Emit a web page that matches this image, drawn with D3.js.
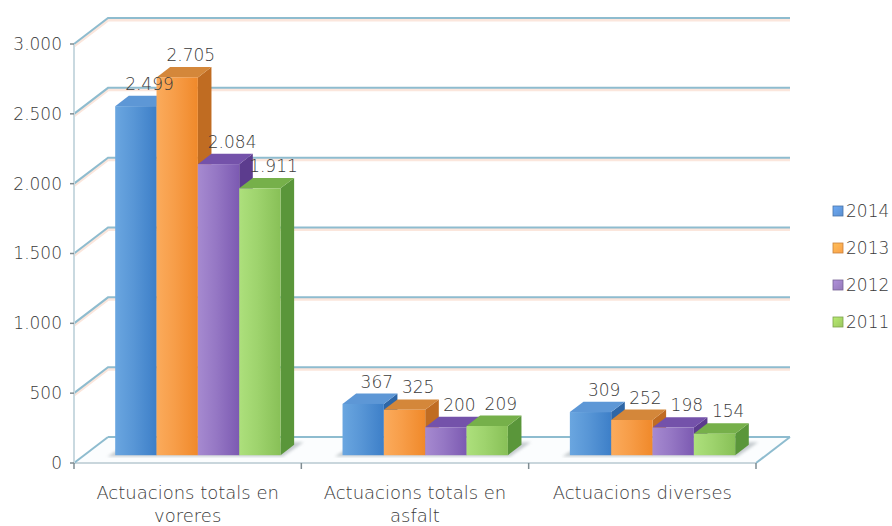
<!DOCTYPE html>
<html>
<head>
<meta charset="utf-8">
<script src="https://cdn.jsdelivr.net/npm/d3@7/dist/d3.min.js"></script>
<style>
  html, body { margin: 0; padding: 0; background: #fff; }
  svg { display: block; }
  text { font-family: "DejaVu Sans", sans-serif; font-weight: 200; fill: #3a3a3a; }
</style>
</head>
<body>
<svg id="chart" width="892" height="526"></svg>
<script>
// Categories (each entry is the label split into its lines)
const categories = [
  ["Actuacions totals en", "voreres"],
  ["Actuacions totals en", "asfalt"],
  ["Actuacions diverses"]
];
const series = ["2014", "2013", "2012", "2011"];
const values2014 = [2499, 367, 309];
const values2013 = [2705, 325, 252];
const values2012 = [2084, 200, 198];
const values2011 = [1911, 209, 154];
const yTicks = [0, 500, 1000, 1500, 2000, 2500, 3000];

const seriesValues = [values2014, values2013, values2012, values2011];

// Colour sets per series: front gradient, side, top, legend
const palette = [
  { f0: "#6aa6e0", f1: "#3d7fc8", side: "#2e66a6", top: "#5d97d6", key: "#5b8fcf" },
  { f0: "#fbab5c", f1: "#f0892a", side: "#c06c22", top: "#d4873a", key: "#f9a04a" },
  { f0: "#a68ad0", f1: "#7c5ab2", side: "#5c3c8e", top: "#7452aa", key: "#9479b8" },
  { f0: "#ade07c", f1: "#88c057", side: "#5a963a", top: "#76b04a", key: "#9bc65f" }
];

const fmt = d3.formatLocale({ decimal: ",", thousands: ".", grouping: [3], currency: ["", "€"] }).format(",d");

const svg = d3.select("#chart");

// Front plane of the 3D box and its depth vector
const x0 = 74, x1 = 756;
const depth = { dx: 34, dy: -26 };
const y = d3.scaleLinear().domain([0, 3000]).range([463, 44]);
const x = d3.scaleBand().domain(d3.range(categories.length)).range([x0, x1]).padding(0);
const xs = d3.scaleBand().domain(series).range([0, x.bandwidth()]).paddingInner(0).paddingOuter(0.75);

// project a point (screen x on front plane, value, depth fraction)
const P = (px, v, d) => [px + d * depth.dx, y(v) + d * depth.dy];
const poly = pts => "M" + pts.map(p => p.join(",")).join("L") + "Z";

const defs = svg.append("defs");
palette.forEach((c, i) => {
  const g = defs.append("linearGradient").attr("id", "front" + i).attr("x1", 0).attr("x2", 1).attr("y1", 0).attr("y2", 0);
  g.append("stop").attr("offset", "0%").attr("stop-color", c.f0);
  g.append("stop").attr("offset", "45%").attr("stop-color", d3.interpolateRgb(c.f0, c.f1)(0.4));
  g.append("stop").attr("offset", "100%").attr("stop-color", c.f1);
  const k = defs.append("linearGradient").attr("id", "key" + i).attr("x1", 0).attr("x2", 1).attr("y1", 0).attr("y2", 1);
  k.append("stop").attr("offset", "0%").attr("stop-color", d3.color(c.key).brighter(0.5));
  k.append("stop").attr("offset", "100%").attr("stop-color", c.key);
});
defs.append("filter").attr("id", "soft").append("feGaussianBlur").attr("stdDeviation", 1.6);

const grid = "#8ebccf";

// Floor
const floor = svg.append("g");
floor.append("path")
  .attr("d", poly([P(x0, 0, 0), P(x1, 0, 0), P(x1, 0, 1), P(x0, 0, 1)]))
  .attr("fill", "#fbfdfe").attr("stroke", "none");
floor.append("line")
  .attr("x1", P(x0, 0, 1)[0]).attr("y1", P(x0, 0, 1)[1])
  .attr("x2", P(x1, 0, 1)[0]).attr("y2", P(x1, 0, 1)[1])
  .attr("stroke", grid).attr("stroke-width", 2);
floor.append("line")
  .attr("x1", P(x1, 0, 0)[0]).attr("y1", P(x1, 0, 0)[1])
  .attr("x2", P(x1, 0, 1)[0]).attr("y2", P(x1, 0, 1)[1])
  .attr("stroke", grid).attr("stroke-width", 2);
floor.append("line")
  .attr("x1", x0).attr("y1", y(0)).attr("x2", x1).attr("y2", y(0))
  .attr("stroke", "#c9d6dc").attr("stroke-width", 2);

// Back wall gridlines and left wall diagonals
const walls = svg.append("g");
yTicks.filter(t => t > 0).forEach(t => {
  const a = P(x0, t, 0), b = P(x0, t, 1), c = P(x1, t, 1);
  walls.append("path")
    .attr("d", `M${a}L${b}L${c}`)
    .attr("fill", "none").attr("stroke", "#fbe6dc").attr("stroke-width", 3)
    .attr("transform", "translate(0,2)");
  walls.append("path")
    .attr("d", `M${a}L${b}L${c}`)
    .attr("fill", "none").attr("stroke", grid).attr("stroke-width", 2);
});
walls.append("path")
  .attr("d", `M${P(x0, 0, 0)}L${P(x0, 0, 1)}`)
  .attr("fill", "none").attr("stroke", grid).attr("stroke-width", 2);

// Front vertical axis
const axisG = svg.append("g");
axisG.append("line").attr("x1", x0).attr("x2", x0).attr("y1", y(3000)).attr("y2", y(0))
  .attr("stroke", "#c9d9e0").attr("stroke-width", 2);
axisG.selectAll(".tick").data(yTicks).join("line")
  .attr("x1", x0 - 4).attr("x2", x0).attr("y1", d => y(d)).attr("y2", d => y(d))
  .attr("stroke", "#7f8c92").attr("stroke-width", 1.5);
axisG.selectAll(".ylab").data(yTicks).join("text")
  .attr("x", 62).attr("y", d => y(d)).attr("dy", "0.35em")
  .attr("text-anchor", "end").attr("font-size", 17)
  .text(d => fmt(d));

// Category tick marks on front floor edge
axisG.selectAll(".xtick").data(d3.range(categories.length + 1)).join("line")
  .attr("x1", i => x0 + i * x.step()).attr("x2", i => x0 + i * x.step())
  .attr("y1", y(0)).attr("y2", y(0) + 6)
  .attr("stroke", "#7f8c92").attr("stroke-width", 1.5);

// Category labels
categories.forEach((lines, i) => {
  const t = svg.append("text")
    .attr("x", x(i) + x.bandwidth() / 2).attr("y", 499)
    .attr("text-anchor", "middle").attr("font-size", 18);
  lines.forEach((ln, j) => t.append("tspan").attr("x", x(i) + x.bandwidth() / 2).attr("dy", j ? 23 : 0).text(ln));
});

// Bars
const dFront = 0.3, dBack = 0.7;
const bars = svg.append("g");
categories.forEach((_, ci) => {
  // soft shadow on the floor beneath the group
  const gx0 = x(ci) + xs(series[0]), gx1 = x(ci) + xs(series[series.length - 1]) + xs.bandwidth();
  bars.append("path")
    .attr("d", poly([P(gx0 - 6, 0, dFront - 0.05), P(gx1 + 4, 0, dFront - 0.05), P(gx1 + 6, 0, dBack + 0.1), P(gx0 - 2, 0, dBack + 0.1)]))
    .attr("fill", "#9aa3a8").attr("opacity", 0.55).attr("filter", "url(#soft)");
  series.forEach((s, si) => {
    const v = seriesValues[si][ci];
    const bx0 = x(ci) + xs(s), bx1 = bx0 + xs.bandwidth();
    const c = palette[si];
    // side face
    bars.append("path")
      .attr("d", poly([P(bx1, 0, dFront), P(bx1, 0, dBack), P(bx1, v, dBack), P(bx1, v, dFront)]))
      .attr("fill", c.side);
    // top face
    bars.append("path")
      .attr("d", poly([P(bx0, v, dFront), P(bx1, v, dFront), P(bx1, v, dBack), P(bx0, v, dBack)]))
      .attr("fill", c.top);
    // front face
    const a = P(bx0, v, dFront), b = P(bx1, 0, dFront);
    bars.append("rect")
      .attr("x", a[0]).attr("y", a[1]).attr("width", b[0] - a[0]).attr("height", b[1] - a[1])
      .attr("fill", `url(#front${si})`);
  });
});

// Value labels
const labels = svg.append("g");
categories.forEach((_, ci) => {
  series.forEach((s, si) => {
    const v = seriesValues[si][ci];
    const cx = x(ci) + xs(s) + xs.bandwidth() / 2;
    const p = P(cx, v, dBack);
    labels.append("text")
      .attr("x", p[0]).attr("y", p[1] - 6)
      .attr("text-anchor", "middle").attr("font-size", 17)
      .text(fmt(v));
  });
});

// Legend
const legend = svg.append("g").attr("transform", "translate(833,211)");
series.forEach((s, si) => {
  const g = legend.append("g").attr("transform", `translate(0,${si * 37})`);
  g.append("rect").attr("x", 0).attr("y", -5).attr("width", 10).attr("height", 10)
    .attr("fill", `url(#key${si})`).attr("stroke", d3.color(palette[si].key).darker(0.6)).attr("stroke-width", 0.8);
  g.append("text").attr("x", 13).attr("y", 0).attr("dy", "0.36em").attr("font-size", 17).text(s);
});
</script>
</body>
</html>
